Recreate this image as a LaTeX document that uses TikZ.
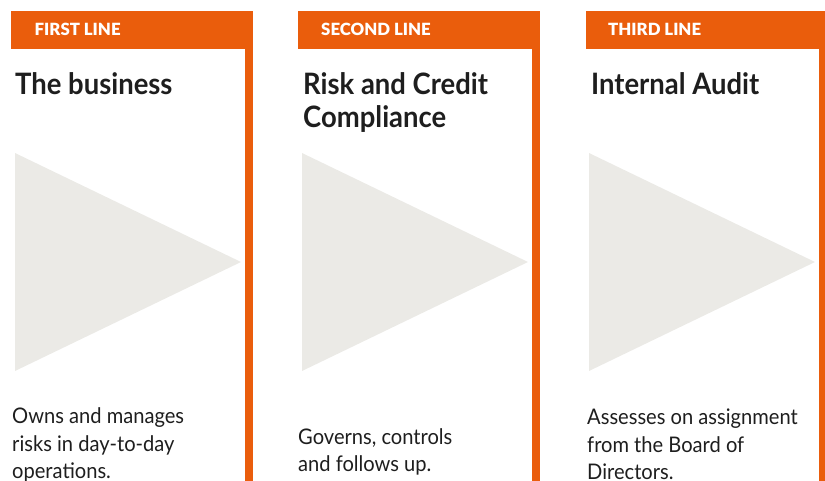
\documentclass[tikz,border=0pt]{standalone}
\usepackage{fontspec}
\setmainfont{Lato}
\newfontfamily\hdrfont{Lato Black}
\newfontfamily\ttlfont[FakeStretch=0.93]{Lato Bold}
\newfontfamily\bodyfont[FakeStretch=0.935]{Lato}
\definecolor{lineorange}{RGB}{234,93,12}
\definecolor{trigrey}{RGB}{235,234,230}
\definecolor{inkdark}{RGB}{30,30,30}
\tikzset{
  hdrbar/.style={fill=lineorange, draw=none},
  sidebar/.style={fill=lineorange, draw=none},
  tri/.style={fill=trigrey, draw=none},
  hdrtext/.style={anchor=base west, inner sep=0pt, text=white, font=\hdrfont\fontsize{16.8}{16.8}\selectfont},
  ttltext/.style={anchor=base west, inner sep=0pt, text=inkdark, font=\ttlfont\fontsize{29.5}{29.5}\selectfont},
  bodytext/.style={anchor=base west, inner sep=0pt, text=inkdark, font=\bodyfont\fontsize{21.5}{21.5}\selectfont},
}
\begin{document}
\begin{tikzpicture}[x=1pt,y=-1pt]
\useasboundingbox (0,0) rectangle (825,481);
% column 1
\fill[hdrbar] (11,11) rectangle (253,49);
\fill[sidebar] (245,49) rectangle (253,481);
\fill[tri] (15,153) -- (241,262) -- (15,371) -- cycle;
\node[hdrtext] (h1) at (34.5,35.5) {FIRST LINE};
\node[ttltext] (t1) at (15,94.5) {The business};
\node[bodytext] (b1a) at (12,423.5) {Owns and manages};
\node[bodytext] (b1b) at (12,451) {risks in day-to-day};
\node[bodytext] (b1c) at (12,478.5) {operations.};
% column 2
\fill[hdrbar] (298,11) rectangle (540,49);
\fill[sidebar] (532,49) rectangle (540,481);
\fill[tri] (302,153) -- (528,262) -- (302,371) -- cycle;
\node[hdrtext] (h2) at (321,35.5) {SECOND LINE};
\node[ttltext] (t2a) at (303,94.5) {Risk and Credit};
\node[ttltext] (t2b) at (303,128) {Compliance};
\node[bodytext] (b2a) at (298,444) {Governs, controls};
\node[bodytext] (b2b) at (298,471.5) {and follows up.};
% column 3
\fill[hdrbar] (586,11) rectangle (825,49);
\fill[sidebar] (819,49) rectangle (825,481);
\fill[tri] (589,153) -- (815,262) -- (589,371) -- cycle;
\node[hdrtext] (h3) at (608,35.5) {THIRD LINE};
\node[ttltext] (t3) at (591,94.5) {Internal Audit};
\node[bodytext] (b3a) at (587,424.5) {Assesses on assignment};
\node[bodytext] (b3b) at (587,452) {from the Board of};
\node[bodytext] (b3c) at (587,479.5) {Directors.};
\end{tikzpicture}
\end{document}
